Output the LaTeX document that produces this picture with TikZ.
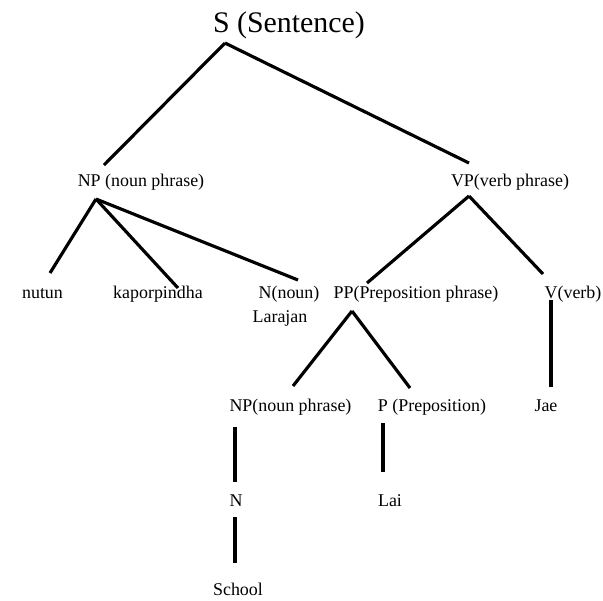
\documentclass[tikz,border=0pt]{standalone}
\usepackage{fontspec}
\setmainfont{Liberation Serif}
\usepackage{tikz}
\usetikzlibrary{positioning}

\begin{document}
\begin{tikzpicture}[x=0.02cm,y=-0.02cm]
	\tikzstyle{word} = [inner sep=0pt, anchor=base, font=\fontsize{10.2}{12}\selectfont]
	\tikzstyle{branch} = [line width=1.8pt]
	
	\useasboundingbox (0,0) rectangle (603,600);
	
	\node [inner sep=0pt, anchor=base, font=\fontsize{17}{20}\selectfont] (s) at (289,32) {S (Sentence)};
	
	\node [word] (np) at (141,186) {NP (noun phrase)};
	\node [word] (vp) at (510,186) {VP(verb phrase)};
	
	\node [word] (nutun) at (42.5,298) {nutun};
	\node [word] (kapor) at (158,298) {kaporpindha};
	\node [word] (noun) at (289,298) {N(noun)};
	\node [word] (larajan) at (280,322) {Larajan};
	\node [word] (pp) at (416,298) {PP(Preposition phrase)};
	\node [word] (verb) at (573,298) {V(verb)};
	
	\node [word] (npb) at (290.5,411) {NP(noun phrase)};
	\node [word] (prep) at (432,411) {P (Preposition)};
	\node [word] (jae) at (546,411) {Jae};
	
	\node [word] (n) at (236,506) {N};
	\node [word] (lai) at (390,506) {Lai};
	
	\node [word] (school) at (238,595) {School};
	
	% where the branches meet the labels
	\coordinate (s-foot) at (225,43);
	\coordinate (np-head) at (104,165);
	\coordinate (vp-head) at (469,163);
	\coordinate (np-foot) at (96,199);
	\coordinate (vp-foot) at (469,196);
	\coordinate (nutun-head) at (50,273);
	\coordinate (kapor-head) at (178,288);
	\coordinate (noun-head) at (298,280);
	\coordinate (pp-head) at (367,283);
	\coordinate (verb-head) at (543,274);
	\coordinate (pp-foot) at (352,311);
	\coordinate (verb-foot) at (551,300);
	\coordinate (npb-head) at (293,386);
	\coordinate (prep-head) at (410,388);
	\coordinate (jae-head) at (551,387);
	\coordinate (npb-foot) at (235,427);
	\coordinate (prep-foot) at (383,423);
	\coordinate (n-head) at (235,482);
	\coordinate (lai-head) at (383,472);
	\coordinate (n-foot) at (235,517);
	\coordinate (school-head) at (235,563);
	
	\draw [branch] (s-foot) -- (np-head);
	\draw [branch] (s-foot) -- (vp-head);
	
	\draw [branch] (np-foot) -- (nutun-head);
	\draw [branch] (np-foot) -- (kapor-head);
	\draw [branch] (np-foot) -- (noun-head);
	
	\draw [branch] (vp-foot) -- (pp-head);
	\draw [branch] (vp-foot) -- (verb-head);
	
	\draw [branch] (pp-foot) -- (npb-head);
	\draw [branch] (pp-foot) -- (prep-head);
	\draw [branch] (verb-foot) -- (jae-head);
	
	\draw [branch] (npb-foot) -- (n-head);
	\draw [branch] (prep-foot) -- (lai-head);
	\draw [branch] (n-foot) -- (school-head);
	
\end{tikzpicture}
\end{document}
